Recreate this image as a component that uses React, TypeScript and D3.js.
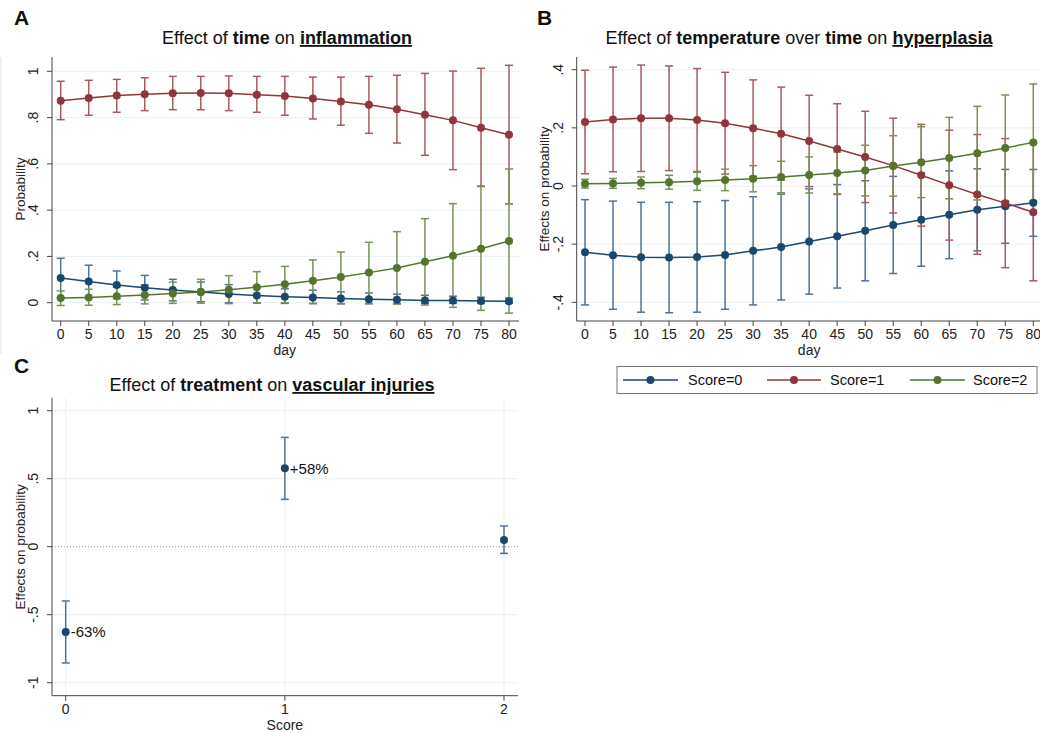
import React from "react";
import * as d3 from "d3";

// ---------- DATA ----------
const days = [0, 5, 10, 15, 20, 25, 30, 35, 40, 45, 50, 55, 60, 65, 70, 75, 80];

// Panel A: Effect of time on inflammation (probabilities)
const inflam0 = [0.107, 0.092, 0.077, 0.065, 0.055, 0.046, 0.038, 0.031, 0.026, 0.022, 0.018, 0.015, 0.013, 0.010, 0.009, 0.007, 0.006];
const inflam0Lo = [0.022, 0.022, 0.018, 0.012, 0.008, 0.004, 0.0, -0.002, -0.003, -0.004, -0.004, -0.004, -0.004, -0.004, -0.003, -0.003, -0.003];
const inflam0Hi = [0.192, 0.162, 0.137, 0.118, 0.101, 0.089, 0.078, 0.068, 0.060, 0.054, 0.047, 0.042, 0.037, 0.032, 0.028, 0.024, 0.020];
const inflam1 = [0.873, 0.885, 0.895, 0.901, 0.905, 0.906, 0.905, 0.899, 0.893, 0.882, 0.870, 0.855, 0.836, 0.812, 0.788, 0.756, 0.726];
const inflam1Lo = [0.791, 0.810, 0.823, 0.830, 0.834, 0.834, 0.830, 0.823, 0.810, 0.794, 0.767, 0.732, 0.690, 0.637, 0.575, 0.504, 0.427];
const inflam1Hi = [0.957, 0.961, 0.965, 0.972, 0.978, 0.978, 0.980, 0.978, 0.978, 0.975, 0.975, 0.978, 0.983, 0.991, 1.001, 1.013, 1.026];
const inflam2 = [0.020, 0.023, 0.028, 0.033, 0.040, 0.046, 0.056, 0.067, 0.080, 0.095, 0.111, 0.130, 0.150, 0.177, 0.203, 0.233, 0.267];
const inflam2Lo = [-0.012, -0.011, -0.008, -0.005, -0.003, -0.002, -0.004, 0.0, 0.0, -0.003, -0.005, -0.005, -0.006, -0.010, -0.020, -0.033, -0.045];
const inflam2Hi = [0.051, 0.058, 0.067, 0.077, 0.089, 0.101, 0.117, 0.134, 0.157, 0.185, 0.219, 0.261, 0.307, 0.363, 0.428, 0.502, 0.578];

// Panel B: Effect of temperature over time on hyperplasia
const hyper0 = [-0.228, -0.238, -0.245, -0.246, -0.244, -0.237, -0.223, -0.210, -0.191, -0.173, -0.154, -0.134, -0.116, -0.099, -0.082, -0.070, -0.058];
const hyper0Lo = [-0.409, -0.424, -0.434, -0.436, -0.434, -0.424, -0.409, -0.392, -0.372, -0.351, -0.326, -0.301, -0.276, -0.250, -0.223, -0.197, -0.173];
const hyper0Hi = [-0.047, -0.052, -0.056, -0.056, -0.054, -0.050, -0.037, -0.028, -0.010, 0.005, 0.018, 0.033, 0.044, 0.052, 0.059, 0.057, 0.057];
const hyper1 = [0.220, 0.229, 0.233, 0.233, 0.227, 0.216, 0.199, 0.180, 0.155, 0.127, 0.100, 0.070, 0.037, 0.003, -0.029, -0.059, -0.090];
const hyper1Lo = [0.042, 0.049, 0.050, 0.053, 0.050, 0.041, 0.033, 0.020, -0.002, -0.029, -0.057, -0.093, -0.138, -0.186, -0.235, -0.281, -0.326];
const hyper1Hi = [0.398, 0.409, 0.416, 0.413, 0.404, 0.391, 0.365, 0.340, 0.312, 0.283, 0.257, 0.233, 0.212, 0.192, 0.177, 0.163, 0.146];
const hyper2 = [0.008, 0.009, 0.011, 0.013, 0.016, 0.021, 0.025, 0.031, 0.038, 0.045, 0.053, 0.069, 0.082, 0.096, 0.113, 0.131, 0.150];
const hyper2Lo = [-0.007, -0.008, -0.009, -0.011, -0.015, -0.016, -0.020, -0.023, -0.024, -0.027, -0.034, -0.035, -0.040, -0.044, -0.048, -0.051, -0.051];
const hyper2Hi = [0.023, 0.026, 0.031, 0.037, 0.047, 0.058, 0.070, 0.085, 0.100, 0.117, 0.140, 0.173, 0.204, 0.236, 0.274, 0.313, 0.351];

// Panel C: Effect of treatment on vascular injuries
const scores = [0, 1, 2];
const vascular = [-0.627, 0.576, 0.049];
const vascularLo = [-0.855, 0.348, -0.049];
const vascularHi = [-0.399, 0.804, 0.152];
const vascularLabels = ["-63%", "+58%", ""];

const dayTicks = days;
const probTicks = [0, 0.2, 0.4, 0.6, 0.8, 1];
const effTicksB = [-0.4, -0.2, 0, 0.2, 0.4];
const effTicksC = [-1, -0.5, 0, 0.5, 1];
const legendLabels = ["Score=0", "Score=1", "Score=2"];

// ---------- STYLE ----------
const FONT = "'Liberation Sans', Arial, Helvetica, sans-serif";
const lineColors = ["#1a476f", "#90353b", "#55752f"];
const ciColors = ["#4f7398", "#a95a61", "#789453"];
const gridColor = "#eaf0f1";
const axisColor = "#444";

const fmt = (v: number) => {
  if (v === 0) return "0";
  const s = Math.abs(v) >= 1 ? String(Math.abs(v)) : String(Math.abs(v)).replace(/^0/, "");
  return (v < 0 ? "-" : "") + s;
};

type Series = { mean: number[]; lo: number[]; hi: number[] };

function Title({ x, y, parts }: { x: number; y: number; parts: { t: string; b?: boolean; u?: boolean }[] }) {
  return (
    <text x={x} y={y} textAnchor="middle" fontFamily={FONT} fontSize={18} fill="#111">
      {parts.map((p, i) => (
        <tspan key={i} fontWeight={p.b ? "bold" : "normal"} style={p.u ? { textDecoration: "underline" } : undefined}>
          {p.t}
        </tspan>
      ))}
    </text>
  );
}

function YAxis({ x, y0, y1, scale, ticks, title, titleX }: any) {
  return (
    <g>
      <line x1={x} x2={x} y1={y0} y2={y1} stroke={axisColor} strokeWidth={1} />
      {ticks.map((t: number) => (
        <g key={t}>
          <line x1={x - 5} x2={x} y1={scale(t)} y2={scale(t)} stroke={axisColor} />
          <text
            transform={`translate(${x - 14},${scale(t)}) rotate(-90)`}
            textAnchor="middle"
            fontFamily={FONT}
            fontSize={14}
            fill="#222"
          >
            {fmt(t)}
          </text>
        </g>
      ))}
      <text
        transform={`translate(${titleX},${(y0 + y1) / 2}) rotate(-90)`}
        textAnchor="middle"
        fontFamily={FONT}
        fontSize={13.5}
        fill="#222"
      >
        {title}
      </text>
    </g>
  );
}

function XAxis({ y, x0, x1, scale, ticks, title }: any) {
  const r = scale.range();
  return (
    <g>
      <line x1={x0} x2={x1} y1={y} y2={y} stroke={axisColor} strokeWidth={1} />
      {ticks.map((t: number) => (
        <g key={t}>
          <line x1={scale(t)} x2={scale(t)} y1={y} y2={y + 5} stroke={axisColor} />
          <text x={scale(t)} y={y + 18} textAnchor="middle" fontFamily={FONT} fontSize={14} fill="#222">
            {t}
          </text>
        </g>
      ))}
      <text x={(r[0] + r[1]) / 2} y={y + 34} textAnchor="middle" fontFamily={FONT} fontSize={14} fill="#222">
        {title}
      </text>
    </g>
  );
}

function SeriesMarks({ xs, series, xScale, yScale }: { xs: number[]; series: Series[]; xScale: any; yScale: any }) {
  const line = d3
    .line<number>()
    .x((_, i) => xScale(xs[i]))
    .y((d) => yScale(d));
  return (
    <g>
      {series.map((s, si) => (
        <g key={"ci" + si} stroke={ciColors[si]} strokeWidth={1.5} fill="none">
          {xs.map((xv, i) => {
            const cx = xScale(xv);
            return (
              <g key={i}>
                <line x1={cx} x2={cx} y1={yScale(s.lo[i])} y2={yScale(s.hi[i])} />
                <line x1={cx - 4} x2={cx + 4} y1={yScale(s.lo[i])} y2={yScale(s.lo[i])} />
                <line x1={cx - 4} x2={cx + 4} y1={yScale(s.hi[i])} y2={yScale(s.hi[i])} />
              </g>
            );
          })}
        </g>
      ))}
      {series.map((s, si) => (
        <g key={"ln" + si}>
          <path d={line(s.mean) || ""} stroke={lineColors[si]} strokeWidth={1.5} fill="none" />
          {s.mean.map((v, i) => (
            <circle key={i} cx={xScale(xs[i])} cy={yScale(v)} r={4} fill={lineColors[si]} />
          ))}
        </g>
      ))}
    </g>
  );
}

export default function App() {
  // Panel A
  const axX = d3.scaleLinear().domain([0, 80]).range([60.7, 509]);
  const axY = d3.scaleLinear().domain([0, 1]).range([302.7, 71.3]);
  // Panel B
  const bxX = d3.scaleLinear().domain([0, 80]).range([585, 1033.3]);
  const bxY = d3.scaleLinear().domain([-0.4, 0.4]).range([302.3, 69.7]);
  // Panel C
  const cxX = d3.scaleLinear().domain([0, 2]).range([65.7, 504]);
  const cxY = d3.scaleLinear().domain([-1, 1]).range([682.7, 410.7]);

  const seriesA: Series[] = [
    { mean: inflam0, lo: inflam0Lo, hi: inflam0Hi },
    { mean: inflam1, lo: inflam1Lo, hi: inflam1Hi },
    { mean: inflam2, lo: inflam2Lo, hi: inflam2Hi },
  ];
  const seriesB: Series[] = [
    { mean: hyper0, lo: hyper0Lo, hi: hyper0Hi },
    { mean: hyper1, lo: hyper1Lo, hi: hyper1Hi },
    { mean: hyper2, lo: hyper2Lo, hi: hyper2Hi },
  ];

  const legendItems = [
    { x1: 623, x2: 678, tx: 688 },
    { x1: 767, x2: 821, tx: 830 },
    { x1: 910, x2: 965, tx: 973 },
  ];

  return (
    <svg
      width={1040}
      height={733}
      style={{ position: "absolute", left: 0, top: 0, background: "#fff" }}
      xmlns="http://www.w3.org/2000/svg"
    >
      <rect x={0} y={0} width={1040} height={733} fill="#fff" />

      {/* ===== Panel A ===== */}
      <line x1={1} x2={1} y1={57} y2={354} stroke="#e2e2e2" />
      <text x={14} y={25} fontFamily={FONT} fontSize={21} fontWeight="bold" fill="#111">A</text>
      <Title x={287} y={44} parts={[{ t: "Effect of " }, { t: "time", b: true }, { t: " on " }, { t: "inflammation", b: true, u: true }]} />
      {probTicks.map((t) => (
        <line key={t} x1={52} x2={519} y1={axY(t)} y2={axY(t)} stroke={gridColor} />
      ))}
      <SeriesMarks xs={days} series={seriesA} xScale={axX} yScale={axY} />
      <YAxis x={52} y0={57} y1={321} scale={axY} ticks={probTicks} title="Probability" titleX={25} />
      <XAxis y={321} x0={52} x1={519} scale={axX} ticks={dayTicks} title="day" />

      {/* ===== Panel B ===== */}
      <text x={537} y={25} fontFamily={FONT} fontSize={21} fontWeight="bold" fill="#111">B</text>
      <Title
        x={799}
        y={44}
        parts={[
          { t: "Effect of " },
          { t: "temperature", b: true },
          { t: " over " },
          { t: "time", b: true },
          { t: " on " },
          { t: "hyperplasia", b: true, u: true },
        ]}
      />
      {effTicksB.map((t) => (
        <line key={t} x1={576.7} x2={1040} y1={bxY(t)} y2={bxY(t)} stroke={gridColor} />
      ))}
      <SeriesMarks xs={days} series={seriesB} xScale={bxX} yScale={bxY} />
      <YAxis x={576.7} y0={57} y1={321} scale={bxY} ticks={effTicksB} title="Effects on probability" titleX={549} />
      <XAxis y={321} x0={576.7} x1={1040} scale={bxX} ticks={dayTicks} title="day" />

      {/* Legend */}
      <rect x={617} y={366.5} width={420} height={27} fill="#fff" stroke="#777" strokeWidth={1} />
      {legendLabels.map((lab, i) => {
        const it = legendItems[i];
        return (
          <g key={lab}>
            <line x1={it.x1} x2={it.x2} y1={380} y2={380} stroke={lineColors[i]} strokeWidth={1.5} />
            <circle cx={(it.x1 + it.x2) / 2} cy={380} r={4} fill={lineColors[i]} />
            <text x={it.tx} y={385} fontFamily={FONT} fontSize={14.5} fill="#111">{lab}</text>
          </g>
        );
      })}

      {/* ===== Panel C ===== */}
      <text x={14} y={373} fontFamily={FONT} fontSize={21} fontWeight="bold" fill="#111">C</text>
      <Title
        x={272}
        y={391}
        parts={[{ t: "Effect of " }, { t: "treatment", b: true }, { t: " on " }, { t: "vascular injuries", b: true, u: true }]}
      />
      {effTicksC.filter((t) => t !== 0).map((t) => (
        <line key={t} x1={52} x2={518} y1={cxY(t)} y2={cxY(t)} stroke={gridColor} />
      ))}
      {scores.map((s) => (
        <line key={s} x1={cxX(s)} x2={cxX(s)} y1={398} y2={695.7} stroke={gridColor} />
      ))}
      <line x1={52} x2={518} y1={cxY(0)} y2={cxY(0)} stroke="#999" strokeDasharray="1,2" />
      <g stroke={lineColors[0]} strokeWidth={1.5}>
        {scores.map((s, i) => (
          <g key={s}>
            <line x1={cxX(s)} x2={cxX(s)} y1={cxY(vascularLo[i])} y2={cxY(vascularHi[i])} stroke={ciColors[0]} />
            <line x1={cxX(s) - 4} x2={cxX(s) + 4} y1={cxY(vascularLo[i])} y2={cxY(vascularLo[i])} stroke={ciColors[0]} />
            <line x1={cxX(s) - 4} x2={cxX(s) + 4} y1={cxY(vascularHi[i])} y2={cxY(vascularHi[i])} stroke={ciColors[0]} />
          </g>
        ))}
      </g>
      {scores.map((s, i) => (
        <g key={s}>
          <circle cx={cxX(s)} cy={cxY(vascular[i])} r={4} fill={lineColors[0]} />
          {vascularLabels[i] && (
            <text x={cxX(s) + 5} y={cxY(vascular[i]) + 5.5} fontFamily={FONT} fontSize={15} fill="#111">
              {vascularLabels[i]}
            </text>
          )}
        </g>
      ))}
      <YAxis x={52} y0={398} y1={695.7} scale={cxY} ticks={effTicksC} title="Effects on probability" titleX={25} />
      <XAxis y={695.7} x0={52} x1={518} scale={cxX} ticks={scores} title="Score" />
    </svg>
  );
}
